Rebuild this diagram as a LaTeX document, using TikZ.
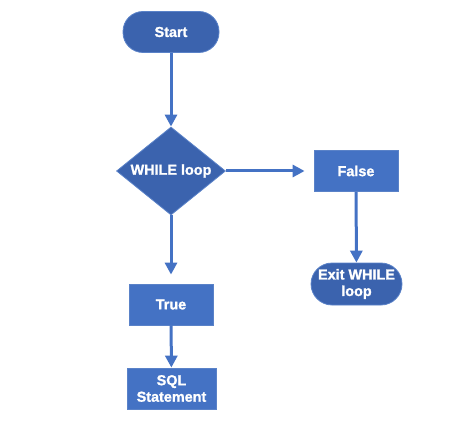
\documentclass[tikz,border=0pt]{standalone}
\usepackage{fontspec}
\setmainfont{Liberation Sans}
\newfontfamily\heavyfont[FakeBold=1.3]{Liberation Sans Bold}
\usetikzlibrary{arrows.meta,shapes.geometric}
\definecolor{darkblue}{HTML}{3B63AE}
\definecolor{officeblue}{HTML}{4472C4}
\definecolor{edgeblue}{HTML}{5A82C8}

\begin{document}
\begin{tikzpicture}
        [
          x=1pt, y=-1pt,
          every node/.style={align=center, text=white, font=\heavyfont\fontsize{14.4}{16.5}\selectfont, draw=edgeblue, line width=0.8pt},
          pill/.style={fill=darkblue, rectangle, rounded corners=20pt, minimum height=41pt, inner sep=0pt},
          box/.style={fill=officeblue, rectangle, minimum height=41pt, inner sep=0pt},
          decision/.style={fill=darkblue, diamond, aspect=1.24, minimum width=109pt, minimum height=88pt, inner sep=0pt},
          flow/.style={draw=officeblue, line width=3pt, -{Triangle[length=12pt,width=12pt]}}
        ]
        \useasboundingbox (0,0) rectangle (474,433);

        \node[pill, minimum width=96pt] (start) at (171,32) {Start};
        \node[decision] (loop) at (171,171) {\makebox[0pt]{WHILE loop}};
        \node[box, minimum width=84pt] (false) at (356,171) {False};
        \node[pill, minimum width=91pt, minimum height=42pt, rounded corners=21pt] (exit) at (356.5,284) {Exit WHILE\\loop};
        \node[box, minimum width=84pt] (true) at (171,304.5) {True};
        \node[box, minimum width=89pt] (sql) at (171.5,388.5) {SQL\\Statement};

        \draw[flow] (start) -- (loop);
        \draw[flow, shorten >=9pt] (loop) -- (false);
        \draw[flow] (false) -- (exit);
        \draw[flow, shorten >=9pt] (loop) -- (true);
        \draw[flow] (true) -- (sql);
    \end{tikzpicture}
\end{document}
